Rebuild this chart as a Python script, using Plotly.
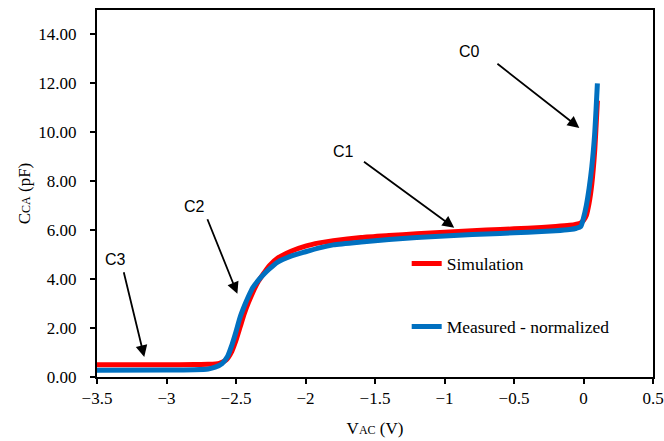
import plotly.graph_objects as go

# Simulation series
sim_v = [-3.5, -3.0, -2.8, -2.7, -2.62, -2.57, -2.53, -2.5, -2.47, -2.44, -2.41, -2.38,
         -2.34, -2.3, -2.26, -2.2, -2.1, -2.0, -1.9, -1.8, -1.6, -1.4, -1.2, -1.0,
         -0.8, -0.6, -0.4, -0.2, -0.1, -0.05, -0.02, 0.0, 0.02, 0.04, 0.06, 0.08, 0.09, 0.1]
sim_c = [0.50, 0.50, 0.51, 0.52, 0.56, 0.70, 1.05, 1.5, 2.05, 2.6, 3.05, 3.45,
         3.9, 4.24, 4.55, 4.86, 5.15, 5.35, 5.48, 5.57, 5.70, 5.78, 5.85, 5.92,
         5.98, 6.03, 6.08, 6.15, 6.2, 6.25, 6.3, 6.4, 6.6, 7.1, 7.9, 9.2, 10.2, 11.3]

# Measured - normalized series
meas_v = [-3.5, -3.0, -2.8, -2.7, -2.65, -2.6, -2.56, -2.53, -2.5, -2.47, -2.44, -2.41,
          -2.38, -2.34, -2.3, -2.26, -2.2, -2.1, -2.0, -1.9, -1.8, -1.6, -1.4, -1.2,
          -1.0, -0.8, -0.6, -0.4, -0.2, -0.1, -0.05, -0.02, 0.0, 0.02, 0.04, 0.06,
          0.08, 0.09, 0.1]
meas_c = [0.28, 0.29, 0.30, 0.33, 0.40, 0.55, 0.85, 1.3, 1.85, 2.45, 2.9, 3.3,
          3.65, 3.95, 4.2, 4.42, 4.7, 4.95, 5.12, 5.28, 5.4, 5.52, 5.62, 5.7,
          5.76, 5.82, 5.87, 5.92, 5.98, 6.03, 6.08, 6.15, 6.5, 7.0, 7.7, 8.6,
          9.9, 10.9, 12.0]

# Annotation labels, their positions, arrow tails and arrow tips (data units)
labels = ["C0", "C1", "C2", "C3"]
label_xy = [(-0.82, 13.3), (-1.73, 9.21), (-2.80, 6.96), (-3.37, 4.79)]
arrow_tail = [(-0.63, 12.85), (-1.59, 8.84), (-2.71, 6.51), (-3.31, 4.34)]
arrow_tip = [(-0.03, 10.18), (-0.93, 6.10), (-2.49, 3.40), (-3.16, 0.82)]

serif = "Liberation Serif"
sans = "Liberation Sans"

fig = go.Figure()
fig.add_trace(go.Scatter(x=sim_v, y=sim_c, mode="lines", name="Simulation",
                         line=dict(color="#FF0000", width=5, shape="spline", smoothing=0.6),
                         legend="legend"))
fig.add_trace(go.Scatter(x=meas_v, y=meas_c, mode="lines", name="Measured - normalized",
                         line=dict(color="#0070C0", width=5, shape="spline", smoothing=0.6),
                         legend="legend2"))

for t, (tx, ty), (ax, ay), (hx, hy) in zip(labels, label_xy, arrow_tail, arrow_tip):
    fig.add_annotation(x=tx, y=ty, text=t, showarrow=False,
                       font=dict(family=sans, size=16, color="black"))
    fig.add_annotation(x=hx, y=hy, ax=ax, ay=ay, axref="x", ayref="y", text="",
                       showarrow=True, arrowhead=2, arrowsize=1.3, arrowwidth=1.8,
                       arrowcolor="black")

axis_common = dict(showline=True, linecolor="black", linewidth=2, mirror=True,
                   ticks="outside", ticklen=5, tickwidth=1.5, tickcolor="black",
                   showgrid=False, zeroline=False, automargin=False,
                   tickfont=dict(size=17, color="black"))

legend_common = dict(xanchor="left", yanchor="middle", bgcolor="rgba(0,0,0,0)",
                     font=dict(size=17.5, color="black"), itemwidth=30)

fig.update_layout(
    width=664, height=441,
    margin=dict(l=97, r=11, t=10, b=64),
    font=dict(family=serif, size=16, color="black"),
    paper_bgcolor="white", plot_bgcolor="white",
    xaxis=dict(range=[-3.5, 0.5], dtick=0.5, tick0=-3.5, ticklabeloverflow="allow",
               title=dict(text="V<span style='font-size:12px'>AC</span> (V)",
                          font=dict(size=17, color="black"), standoff=15),
               **axis_common),
    yaxis=dict(range=[0, 15], tickvals=[0, 2, 4, 6, 8, 10, 12, 14], tickformat=".2f",
               ticklabelstandoff=10,
               title=dict(text="C<span style='font-size:12px'>CA</span> (pF)",
                          font=dict(size=17, color="black"), standoff=3),
               **axis_common),
    legend=dict(x=0.557, y=0.309, **legend_common),
    legend2=dict(x=0.557, y=0.137, **legend_common),
    showlegend=True,
)

fig.write_html("out.html", config={"displayModeBar": False},
               post_script="document.body.style.margin='0';document.body.style.overflow='hidden';")
